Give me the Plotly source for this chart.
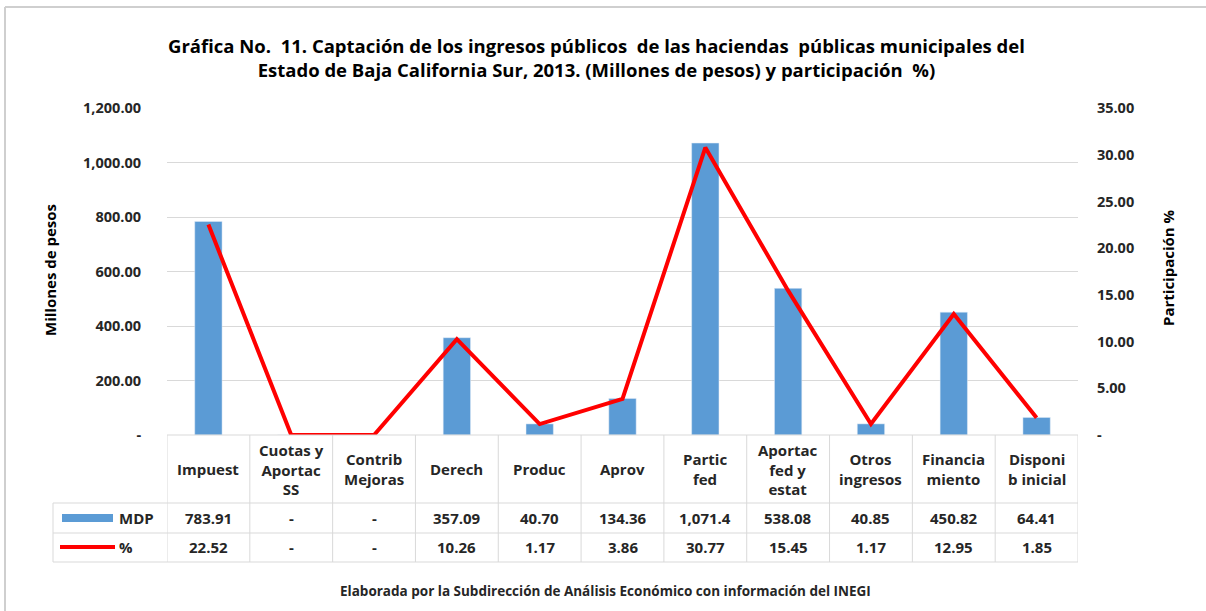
import plotly.graph_objects as go

# ── Datos ─────────────────────────────────────────────────────────
CATEGORIAS = ['Impuest', 'Cuotas y<br>Aportac<br>SS', 'Contrib<br>Mejoras', 'Derech', 'Produc',
              'Aprov', 'Partic<br>fed', 'Aportac<br>fed y<br>estat', 'Otros<br>ingresos',
              'Financia<br>miento', 'Disponi<br>b inicial']
MDP = [783.91, 0, 0, 357.09, 40.70, 134.36, 1071.40, 538.08, 40.85, 450.82, 64.41]
PCT = [22.52, 0, 0, 10.26, 1.17, 3.86, 30.77, 15.45, 1.17, 12.95, 1.85]

Y1_TICKS = [0, 200, 400, 600, 800, 1000, 1200]
Y2_TICKS = [0, 5, 10, 15, 20, 25, 30, 35]

TITULO = ('Gráfica No.  11. Captación de los ingresos públicos  de las haciendas  públicas municipales del<br>'
          'Estado de Baja California Sur, 2013. (Millones de pesos) y participación  %)')
FUENTE = 'Elaborada por la Subdirección de Análisis Económico con información del INEGI'

AZUL = '#5B9BD5'
ROJO = '#FF0000'
GRIS = '#D9D9D9'
TXT = '#262626'
FONT = 'Open Sans'

# ── Geometría (px) ────────────────────────────────────────────────
W, H = 1206, 611
L, R, T, B = 167, 128, 108, 176
PW, PH = W - L - R, H - T - B


def px_x(px):
    return (px - L) / PW


def px_y(py):
    return (H - B - py) / PH


def fmt(v, dec=2):
    if v == 0:
        return '-'
    return f'{v:,.{dec}f}'[:7]


x = list(range(len(CATEGORIAS)))

fig = go.Figure()
fig.add_trace(go.Bar(x=x, y=MDP, name='MDP', marker_color=AZUL, width=0.33))
fig.add_trace(go.Scatter(x=x, y=PCT, name='%', yaxis='y2', mode='lines',
                         line=dict(color=ROJO, width=4)))

shapes = []
annots = []

# Líneas de la tabla de datos
y_head, y_r1, y_r2, y_r3 = 435, 503, 533, 562
shapes.append(dict(type='line', xref='paper', yref='paper', x0=0, x1=1,
                   y0=px_y(y_head), y1=px_y(y_head), line=dict(color=GRIS, width=1)))
for py in (y_r1, y_r2, y_r3):
    shapes.append(dict(type='line', xref='paper', yref='paper', x0=px_x(53), x1=1,
                       y0=px_y(py), y1=px_y(py), line=dict(color=GRIS, width=1)))
for i in range(len(CATEGORIAS) + 1):
    shapes.append(dict(type='line', xref='x', yref='paper', x0=i - 0.5, x1=i - 0.5,
                       y0=px_y(y_head), y1=px_y(y_r3), line=dict(color=GRIS, width=1)))
shapes.append(dict(type='line', xref='paper', yref='paper', x0=px_x(53), x1=px_x(53),
                   y0=px_y(y_r1), y1=px_y(y_r3), line=dict(color=GRIS, width=1)))

# Claves de leyenda
shapes.append(dict(type='rect', xref='paper', yref='paper', x0=px_x(62), x1=px_x(113),
                   y0=px_y(522), y1=px_y(514), fillcolor=AZUL, line=dict(width=0)))
shapes.append(dict(type='line', xref='paper', yref='paper', x0=px_x(60), x1=px_x(115),
                   y0=px_y(547), y1=px_y(547), line=dict(color=ROJO, width=4)))
annots.append(dict(text='<b>MDP</b>', xref='paper', yref='paper', x=px_x(117), y=px_y(518),
                   xanchor='left', yanchor='middle', showarrow=False,
                   font=dict(family=FONT, size=15, color=TXT)))
annots.append(dict(text='<b>%</b>', xref='paper', yref='paper', x=px_x(117), y=px_y(547),
                   xanchor='left', yanchor='middle', showarrow=False,
                   font=dict(family=FONT, size=15, color=TXT)))

# Texto de la tabla
for i, cat in enumerate(CATEGORIAS):
    annots.append(dict(text=f'<b>{cat}</b>', x=i, xref='x', yref='paper', y=px_y(469),
                       xanchor='center', yanchor='middle', showarrow=False,
                       font=dict(family=FONT, size=15, color=TXT)))
    annots.append(dict(text=f'<b>{fmt(MDP[i])}</b>', x=i, xref='x', yref='paper', y=px_y(518),
                       xanchor='center', yanchor='middle', showarrow=False,
                       font=dict(family=FONT, size=15, color=TXT)))
    annots.append(dict(text=f'<b>{fmt(PCT[i])}</b>', x=i, xref='x', yref='paper', y=px_y(547),
                       xanchor='center', yanchor='middle', showarrow=False,
                       font=dict(family=FONT, size=15, color=TXT)))

# Títulos
annots.append(dict(text=f'<b>{TITULO}</b>', xref='paper', yref='paper', x=px_x(596), y=px_y(57),
                   xanchor='center', yanchor='middle', showarrow=False,
                   font=dict(family=FONT, size=18.5, color='#000')))
annots.append(dict(text='<b>Millones de pesos</b>', xref='paper', yref='paper', x=px_x(50),
                   y=px_y(270), textangle=-90, xanchor='center', yanchor='middle', showarrow=False,
                   font=dict(family=FONT, size=15, color='#000')))
annots.append(dict(text='<b>Participación %</b>', xref='paper', yref='paper', x=px_x(1168),
                   y=px_y(268), textangle=-90, xanchor='center', yanchor='middle', showarrow=False,
                   font=dict(family=FONT, size=15, color='#000')))
annots.append(dict(text=f'<b>{FUENTE}</b>', xref='paper', yref='paper', x=px_x(605), y=px_y(591),
                   xanchor='center', yanchor='middle', showarrow=False,
                   font=dict(family=FONT, size=13.5, color=TXT)))

# Marco exterior
shapes.append(dict(type='line', xref='paper', yref='paper', x0=px_x(5), x1=px_x(5),
                   y0=px_y(7), y1=px_y(611), line=dict(color='#CFCFCF', width=2)))
shapes.append(dict(type='line', xref='paper', yref='paper', x0=px_x(5), x1=px_x(1206),
                   y0=px_y(7), y1=px_y(7), line=dict(color='#CFCFCF', width=2)))

fig.update_layout(
    width=W, height=H, margin=dict(l=L, r=R, t=T, b=B, autoexpand=False),
    paper_bgcolor='white', plot_bgcolor='white', showlegend=False,
    font=dict(family=FONT, color=TXT),
    xaxis=dict(range=[-0.5, len(CATEGORIAS) - 0.5], showticklabels=False, showgrid=False,
               zeroline=False, showline=False, fixedrange=True),
    yaxis=dict(range=[0, 1200], tickvals=Y1_TICKS,
               ticktext=['<b>-</b>'] + [f'<b>{v:,.2f}</b>' for v in Y1_TICKS[1:]],
               tickfont=dict(family=FONT, size=14.5, color=TXT),
               showgrid=True, gridcolor=GRIS, zeroline=False, showline=False,
               ticks='outside', ticklen=22, tickcolor='rgba(0,0,0,0)', automargin=False),
    yaxis2=dict(range=[0, 35], tickvals=Y2_TICKS, overlaying='y', side='right',
                ticktext=['<b>-</b>'] + [f'<b>{v:.2f}</b>' for v in Y2_TICKS[1:]],
                tickfont=dict(family=FONT, size=14.5, color=TXT),
                showgrid=False, zeroline=False, showline=False,
                ticks='outside', ticklen=15, tickcolor='rgba(0,0,0,0)', automargin=False),
    shapes=shapes, annotations=annots, bargap=0.67,
)

fig.write_html('out.html', config={'displayModeBar': False},
               post_script="document.body.style.margin='0';")
